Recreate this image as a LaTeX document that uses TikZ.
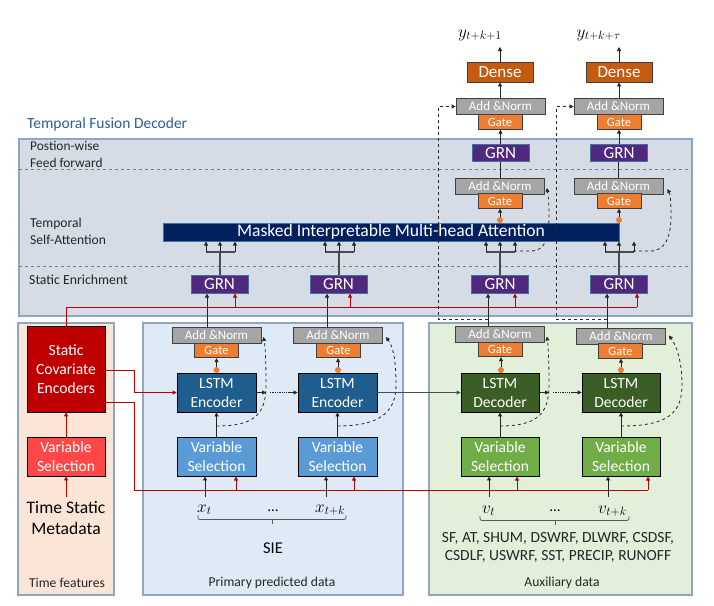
\documentclass[tikz,border=0pt]{standalone}
\usepackage{fontspec}
\setmainfont{Carlito}
\usetikzlibrary{arrows.meta,calc}
\definecolor{anfill}{HTML}{A5A5A5}
\definecolor{boxline}{HTML}{404040}
\definecolor{gatefill}{HTML}{ED7D31}
\definecolor{grnfill}{HTML}{50287E}
\definecolor{grnline}{HTML}{41719C}
\definecolor{densefill}{HTML}{C55A11}
\definecolor{attnfill}{HTML}{002060}
\definecolor{lstmenc}{HTML}{1F5D8F}
\definecolor{vsenc}{HTML}{5B9BD5}
\definecolor{lstmdec}{HTML}{3B5E26}
\definecolor{vsdec}{HTML}{70AD47}
\definecolor{scefill}{HTML}{C00000}
\definecolor{vsred}{HTML}{FF4747}
\definecolor{redline}{HTML}{C00000}
\definecolor{decfill}{HTML}{D6DCE5}
\definecolor{panelline}{HTML}{8FA6C1}
\definecolor{tffill}{HTML}{FBE5D6}
\definecolor{primfill}{HTML}{DEEBF7}
\definecolor{auxfill}{HTML}{E2F0D9}
\definecolor{titleblue}{HTML}{2E5E8E}
\definecolor{txt}{HTML}{262626}
\newcommand{\fsz}[2]{\fontsize{#1}{#2}\selectfont}
\tikzset{
  box/.style={draw=boxline, line width=0.8pt, inner sep=0pt, text=white, align=center},
  anbox/.style={box, fill=anfill, minimum width=89pt, minimum height=16pt, font=\fsz{13}{15}},
  gatebox/.style={box, fill=gatefill, minimum width=44pt, minimum height=14.5pt, font=\fsz{12.5}{14}},
  grnbox/.style={box, fill=grnfill, draw=grnline, minimum width=57pt, minimum height=17.5pt, font=\fsz{17}{18}},
  densebox/.style={box, fill=densefill, minimum width=66pt, minimum height=20pt, font=\fsz{17}{18}},
  lstmebox/.style={box, draw=black, fill=lstmenc, minimum width=79pt, minimum height=39pt, font=\fsz{15.6}{19}},
  lstmdbox/.style={box, draw=black, fill=lstmdec, minimum width=78pt, minimum height=39pt, font=\fsz{15.6}{19}},
  vsebox/.style={box, draw=black, fill=vsenc, minimum width=79pt, minimum height=39pt, font=\fsz{15.6}{19}},
  vsdbox/.style={box, draw=black, fill=vsdec, minimum width=78pt, minimum height=39pt, font=\fsz{15.6}{19}},
  arr/.style={-{Triangle[length=4pt,width=4pt]}, line width=0.8pt, draw=black!85},
  redarr/.style={arr, draw=redline},
  redln/.style={line width=0.9pt, draw=redline},
  resid/.style={dashed, line width=0.8pt, draw=black!85, -{Triangle[length=4pt,width=4pt]}},
  triln/.style={line width=1.1pt, draw=black!70},
  divider/.style={dashed, line width=0.6pt, draw=black!50},
  dotnode/.style={circle, fill=gatefill, inner sep=0pt, minimum size=6pt},
  lbl/.style={text=txt, inner sep=0pt},
  bracel/.style={line width=0.8pt, draw=black!65, rounded corners=2pt},
}
\begin{document}
\begin{tikzpicture}[x=1pt,y=-1pt]
\useasboundingbox[fill=white] (0,0) rectangle (714,605);
% panels
\draw[fill=decfill, draw=panelline, line width=1.2pt] (19,139) rectangle (692,316);
\draw[divider] (19,169) -- (692,169);
\draw[divider] (19,266) -- (692,266);
\draw[fill=tffill, draw=panelline, line width=1.2pt] (18,323) rectangle (114,595);
\draw[fill=primfill, draw=panelline, line width=1.2pt] (143,323) rectangle (403,595);
\draw[fill=auxfill, draw=panelline, line width=1.2pt] (429,323) rectangle (692,595);
% labels
\node[anchor=west, text=titleblue, inner sep=0pt, font=\fsz{15.5}{17}] (title) at (27,124) {Temporal Fusion Decoder};
\node[lbl, anchor=west, font=\fsz{13.4}{15}] (l1) at (30,146) {Postion-wise};
\node[lbl, anchor=west, font=\fsz{13.4}{15}] (l2) at (30,163) {Feed forward};
\node[lbl, anchor=west, font=\fsz{13.6}{15}] (l3) at (30,224) {Temporal};
\node[lbl, anchor=west, font=\fsz{13.6}{15}] (l4) at (30,240) {Self-Attention};
\node[lbl, anchor=west, font=\fsz{13.8}{15}] (l5) at (29,280) {Static Enrichment};
\node[lbl, font=\fsz{13.6}{15}] (ltf) at (67,583) {Time features};
\node[lbl, font=\fsz{13.6}{15}] (lpr) at (272,583) {Primary predicted data};
\node[lbl, font=\fsz{13.6}{15}] (lax) at (562,583) {Auxiliary data};
% top stack
\node[densebox] (dense3) at (500,72) {Dense};
\node[densebox] (dense4) at (619,72) {Dense};
\node[anbox] (an5) at (500.5,106.5) {Add \&Norm};
\node[anbox] (an6) at (618.5,106.5) {Add \&Norm};
\node[gatebox] (gate5) at (500,122) {Gate};
\node[gatebox] (gate6) at (619,122) {Gate};
\node[grnbox] (grnf3) at (500.5,153) {GRN};
\node[grnbox] (grnf4) at (619,153) {GRN};
\node[anbox] (an3a) at (500,186) {Add \&Norm};
\node[anbox] (an4a) at (618.5,186) {Add \&Norm};
\node[gatebox] (gate3a) at (500,201) {Gate};
\node[gatebox] (gate4a) at (619,201) {Gate};
\node[box, draw=grnline, fill=attnfill, minimum width=456pt, minimum height=18pt, font=\fsz{17.6}{18}] (attn) at (391,232) {Masked Interpretable Multi-head Attention};
\node[grnbox] (grn1) at (219.5,284.5) {GRN};
\node[grnbox] (grn2) at (338.5,284.5) {GRN};
\node[grnbox] (grn3) at (500,284.5) {GRN};
\node[grnbox] (grn4) at (619,284.5) {GRN};
% lower stacks
\node[anbox] (an1) at (216.5,335) {Add \&Norm};
\node[gatebox] (gate1) at (216.5,350.5) {Gate};
\node[lstmebox] (lstm1) at (216.5,392.5) {LSTM\\Encoder};
\node[vsebox] (vs1) at (216.5,456.5) {Variable\\Selection};
\node[anbox] (an2) at (338,335) {Add \&Norm};
\node[gatebox] (gate2) at (338.5,350.5) {Gate};
\node[lstmebox] (lstm2) at (337.5,392.5) {LSTM\\Encoder};
\node[vsebox] (vs2) at (337.5,456.5) {Variable\\Selection};
\node[anbox] (an3) at (500,334.5) {Add \&Norm};
\node[gatebox] (gate3) at (500,349.5) {Gate};
\node[lstmdbox] (lstm3) at (500,392.5) {LSTM\\Decoder};
\node[vsdbox] (vs3) at (500,456.5) {Variable\\Selection};
\node[anbox] (an4) at (621,336.5) {Add \&Norm};
\node[gatebox] (gate4) at (620.5,351) {Gate};
\node[lstmdbox] (lstm4) at (621,392.5) {LSTM\\Decoder};
\node[vsdbox] (vs4) at (621,456.5) {Variable\\Selection};
\node[box, draw=black, fill=scefill, minimum width=78pt, minimum height=86pt, font=\fsz{15.6}{19}] (sce) at (66,369) {Static\\Covariate\\Encoders};
\node[box, draw=black, fill=vsred, minimum width=78pt, minimum height=39pt, font=\fsz{15.6}{19}] (vsr) at (66,456.5) {Variable\\Selection};
\node[lbl, text=black, align=center, font=\fsz{17.6}{20.5}] (meta) at (66,518) {Time Static\\Metadata};
% inputs
\node[lbl, text=black, anchor=base west, font=\fsz{17}{20}] (xt) at (197,512) {$x_t$};
\node[lbl, text=black, anchor=base west, font=\fsz{17.5}{20}] (xtk) at (315,512) {$x_{t+k}$};
\node[lbl, text=black, anchor=base, font=\fsz{15}{16}] (dots1) at (273,511) {…};
\node[lbl, text=black, anchor=base west, font=\fsz{17}{20}] (vt) at (482,513) {$v_t$};
\node[lbl, text=black, anchor=base west, font=\fsz{17.5}{20}] (vtk) at (598,513) {$v_{t+k}$};
\node[lbl, text=black, anchor=base, font=\fsz{15}{16}] (dots2) at (555,511) {…};
\node[lbl, text=black, font=\fsz{16.5}{18}] (sie) at (273,548) {SIE};
\node[lbl, font=\fsz{15.5}{16}] (vars1) at (558,538) {SF, AT, SHUM, DSWRF, DLWRF, CSDSF,};
\node[lbl, font=\fsz{15.5}{16}] (vars2) at (558,556) {CSDLF, USWRF, SST, PRECIP, RUNOFF};
\node[lbl, text=black, anchor=base east, font=\fsz{18.5}{20}] (y1) at (502,37) {$y_{t+k+1}$};
\node[lbl, text=black, anchor=base east, font=\fsz{18.5}{20}] (y2) at (621,37) {$y_{t+k+\tau}$};
% braces
\draw[bracel] (198,515) |- (346,519.5) -- (346,515);
\draw[bracel] (272,519.5) -- (272,524);
\draw[bracel] (480,516) |- (629,520.5) -- (629,516);
\draw[bracel] (555,520.5) -- (555,525);
% outputs
\coordinate (o1) at (500,47);
\coordinate (o2) at (619,47);
\draw[arr] (dense3.north) -- (o1);
\draw[arr] (dense4.north) -- (o2);
\draw[arr] (an5.north -| dense3) -- (dense3.south);
\draw[arr] (an6.north -| dense4) -- (dense4.south);
\draw[arr] (grnf3.north) -- (gate5.south -| grnf3);
\draw[arr] (grnf4.north) -- (gate6.south -| grnf4);
\draw[line width=0.8pt, black!85] (an3a.north) -- (grnf3.south -| an3a);
\draw[line width=0.8pt, black!85] (an4a.north) -- (grnf4.south -| an4a);
% attention dots
\node[dotnode] (dA) at (500,220) {};
\node[dotnode] (dB) at (619,220) {};
\draw[arr] (dA) -- (gate3a.south);
\draw[arr] (dB) -- (gate4a.south);
% tri arrows
\foreach \g/\c in {grn1/220, grn2/339, grn3/500, grn4/619}{
  \draw[triln] (\g.north -| \c,0) -- (\c,252);
  \draw[triln] (\c-14,252) -- (\c+15,252);
  \draw[arr, line width=1pt] (\c-14,252) -- (\c-14,241.5);
  \draw[arr, line width=1pt] (\c,252) -- (\c,241.5);
  \draw[arr, line width=1pt] (\c+15,252) -- (\c+15,241.5);
}
% attention residuals
\draw[resid] (514,251) -- (530,251) .. controls (545,251) and (549,240) .. (549,215) .. controls (549,200) and (548,195) .. ($(an3a.east)+(2,2)$);
\draw[resid] (633,251) -- (650,251) .. controls (665,251) and (671,238) .. (671,215) .. controls (671,200) and (670,194) .. ($(an4a.east)+(4,3)$);
% top skips
\draw[resid] (488,319) -- (438,319) -- (438,106.5) -- (an5.west);
\draw[resid] (607,319) -- (556,319) -- (556,106.5) -- (an6.west);
% lower to GRN
\draw[arr] ([xshift=-9.5pt]an1.north) -- ([xshift=-9.5pt]an1.north |- grn1.south);
\draw[arr] ([xshift=-11pt]an2.north) -- ([xshift=-11pt]an2.north |- grn2.south);
\draw[arr] ([xshift=-12pt]an3.north) -- ([xshift=-12pt]an3.north |- grn3.south);
\draw[arr] ([xshift=-14pt]an4.north) -- ([xshift=-14pt]an4.north |- grn4.south);
% static enrichment red
\draw[redln] (sce.north) -- (66,307) -- (637,307);
\draw[redarr] (637,307) -- (637,293.5);
\draw[redarr] (235,307) -- (235,293.5);
\draw[redarr] (350,307) -- (350,293.5);
\draw[redarr] (515,307) -- (515,293.5);
% lower dots and gates
\foreach \l/\g/\x in {lstm1/gate1/216.5, lstm2/gate2/338, lstm3/gate3/501, lstm4/gate4/621}{
  \node[dotnode] (d\l) at (\x,370) {};
  \draw[arr] (d\l) -- (\g.south -| d\l);
}
\draw[arr] (vs1.north) -- (lstm1.south);
\draw[arr] (vs2.north) -- (lstm2.south);
\draw[arr] (vs3.north) -- (lstm3.south);
\draw[arr] (vs4.north) -- (lstm4.south);
% lower residuals
\draw[resid] (216.5,426) .. controls (255,426) and (266,414) .. (266,385) .. controls (266,356) and (265,345) .. ($(an1.east)+(2,2)$);
\draw[resid] (337.5,426) .. controls (380,426) and (396,412) .. (396,385) .. controls (396,356) and (392,345) .. ($(an2.east)+(3,2)$);
\draw[resid] (500,426) .. controls (538,426) and (549,413) .. (549,385) .. controls (549,356) and (548,345) .. ($(an3.east)+(2,2)$);
\draw[resid] (621,426) .. controls (668,426) and (682,413) .. (682,385) .. controls (682,356) and (674,342) .. ($(an4.east)+(3,-1)$);
% LSTM chain
\coordinate (c1) at (266,392.5);
\coordinate (c2) at (288,392.5);
\coordinate (c3) at (549,392.5);
\coordinate (c4) at (572,392.5);
\draw[arr] (lstm1.east) -- (c1);
\draw[densely dotted, line width=1.3pt, black!85] (270,392.5) -- (c2);
\draw[arr] (c2) -- (lstm2.west);
\draw[arr, black!70] (lstm2.east) -- (lstm3.west);
\draw[arr] (lstm3.east) -- (c3);
\draw[densely dotted, line width=1.3pt, black!85] (553,392.5) -- (c4);
\draw[arr] (c4) -- (lstm4.west);
% static covariate red lines
\draw[redln] (105,370) -- (134,370) -- (134,392.5);
\draw[redarr] (134,392.5) -- (lstm1.west);
\draw[redln] (105,402) -- (134,402) -- (134,490) -- (648,490);
\draw[redarr] (648,490) -- (648,476.5);
\draw[redarr] (236,490) -- (236,476.5);
\draw[redarr] (354,490) -- (354,476.5);
\draw[redarr] (517,490) -- (517,476.5);
\draw[redarr] (vsr.north) -- (sce.south);
\coordinate (m1) at (66,497);
\draw[redarr] (m1) -- (vsr.south);
% inputs
\coordinate (i1) at (205,497);
\coordinate (i2) at (326,497);
\coordinate (i3) at (489,497);
\coordinate (i4) at (608,497);
\draw[arr] (i1) -- (i1 |- vs1.south);
\draw[arr] (i2) -- (i2 |- vs2.south);
\draw[arr] (i3) -- (i3 |- vs3.south);
\draw[arr] (i4) -- (i4 |- vs4.south);
\end{tikzpicture}
\end{document}
